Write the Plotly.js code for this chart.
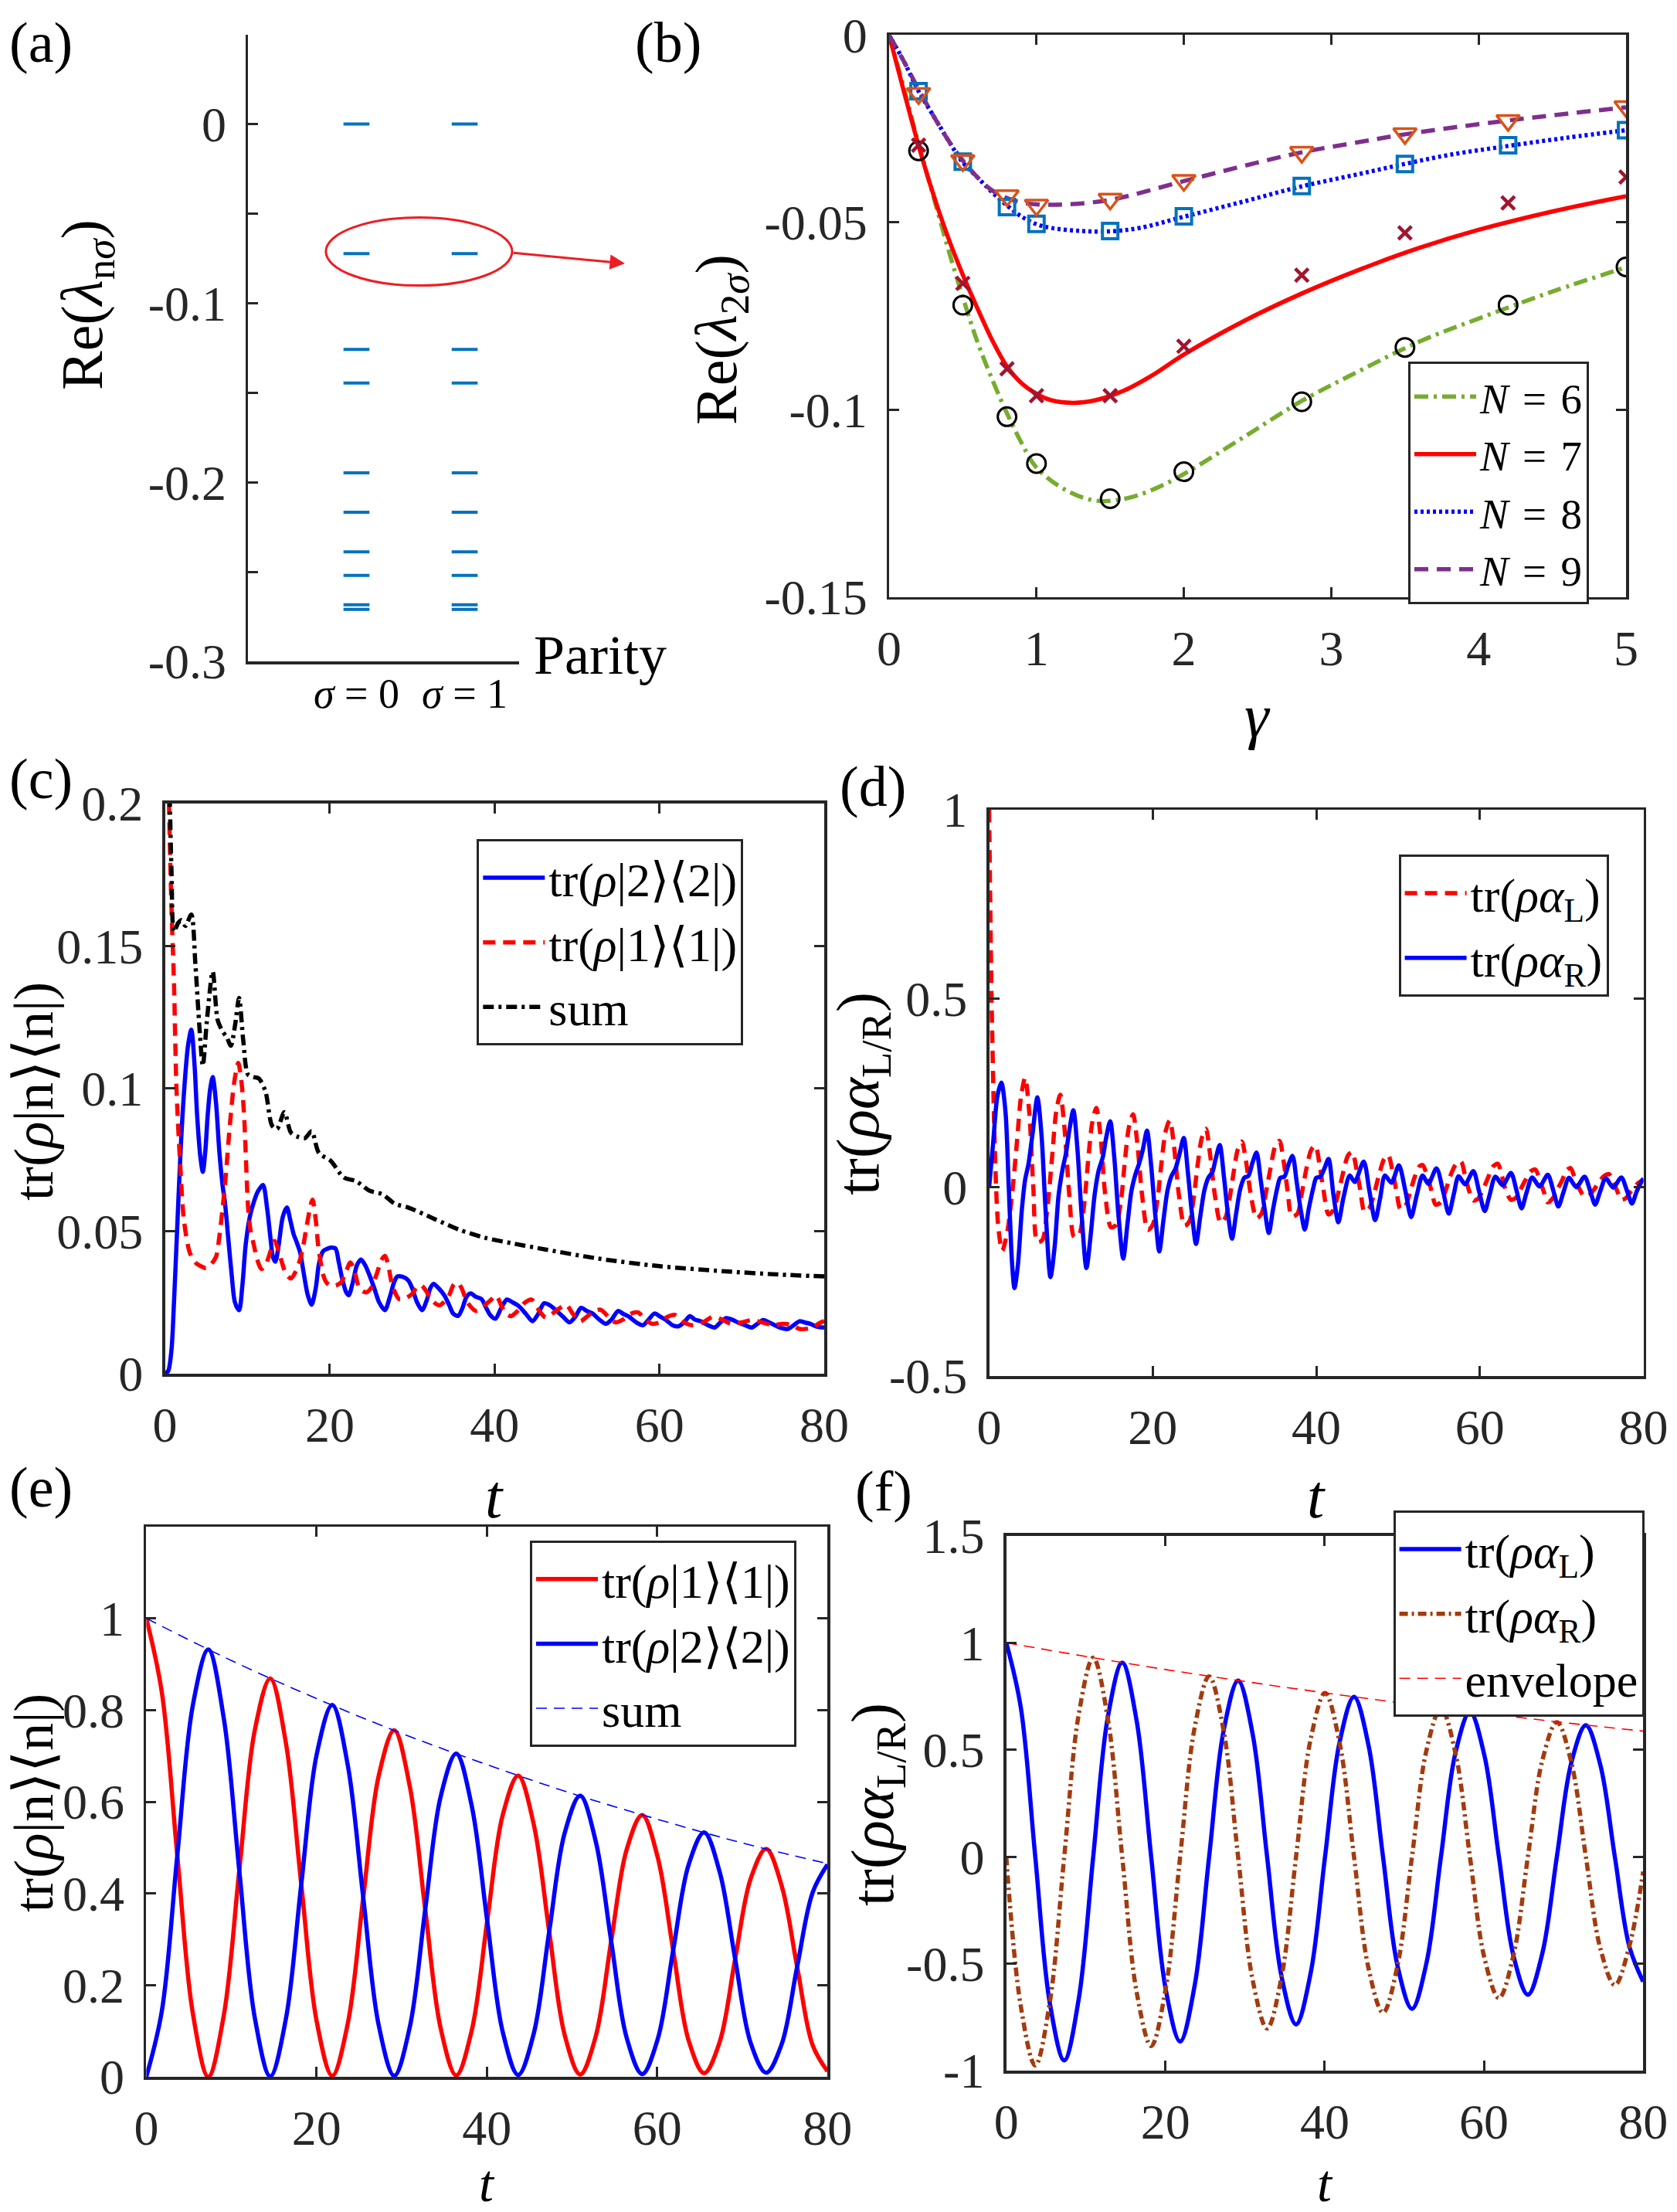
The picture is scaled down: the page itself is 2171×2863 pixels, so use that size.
<!DOCTYPE html>
<html>
<head>
<meta charset="utf-8">
<script src="https://cdn.plot.ly/plotly-3.0.1.min.js"></script>
<style>
  html, body { margin: 0; padding: 0; background: #fff; }
  #fig { width: 2171px; height: 2863px; }
</style>
</head>
<body>
<div id="fig"></div>
<script>
// ---------- (a) decay-rate spectrum split by parity ----------
const paritySectors = [0, 1];
const parityLabels = ['<i>σ</i> = 0', '<i>σ</i> = 1'];
const levelsA = [0, -0.0723, -0.1258, -0.1446, -0.1948, -0.2167, -0.2389, -0.2520, -0.2684, -0.2710];
const ticksA = [-0.3, -0.25, -0.2, -0.15, -0.1, -0.05, 0, 0.05];
const labelsA = ['-0.3', '', '-0.2', '', '-0.1', '', '0', ''];

// ---------- (b) Re(lambda_2sigma) versus gamma ----------
const gammaMarks = [0.2, 0.5, 0.8, 1.0, 1.5, 2.0, 2.8, 3.5, 4.2, 5.0];
const markN6 = [-0.0309, -0.0721, -0.1019, -0.1144, -0.1238, -0.1166, -0.0979, -0.0834, -0.0721, -0.0619];
const markN7 = [-0.0294, -0.0663, -0.0891, -0.0963, -0.0963, -0.0831, -0.0641, -0.0528, -0.0448, -0.0379];
const markN8 = [-0.0150, -0.0338, -0.0459, -0.0504, -0.0523, -0.0484, -0.0403, -0.0344, -0.0294, -0.0254];
const markN9 = [-0.0156, -0.0335, -0.0429, -0.0454, -0.0438, -0.0388, -0.0313, -0.0263, -0.0228, -0.0191];
const curveN6 = [[0,0],[0.1,-0.014],[0.2,-0.029],[0.3,-0.043],[0.4,-0.057],[0.5,-0.070],[0.6,-0.082],[0.7,-0.092],[0.8,-0.101],[0.9,-0.109],[1.0,-0.1155],[1.2,-0.1215],[1.4,-0.1243],[1.6,-0.1238],[1.8,-0.1212],[2.0,-0.1172],[2.4,-0.1075],[2.8,-0.0977],[3.2,-0.0895],[3.6,-0.0818],[4.0,-0.0757],[4.5,-0.0685],[5.0,-0.062]];
const curveN7 = [[0,0],[0.1,-0.015],[0.2,-0.0295],[0.3,-0.0425],[0.4,-0.054],[0.5,-0.064],[0.6,-0.073],[0.7,-0.0815],[0.8,-0.0885],[0.9,-0.093],[1.0,-0.0958],[1.1,-0.0975],[1.25,-0.0982],[1.4,-0.0975],[1.6,-0.0948],[1.8,-0.0905],[2.0,-0.0853],[2.4,-0.0765],[2.8,-0.069],[3.2,-0.0625],[3.6,-0.0568],[4.0,-0.052],[4.5,-0.0471],[5.0,-0.043]];
const curveN8 = [[0,0],[0.1,-0.007],[0.2,-0.015],[0.3,-0.0215],[0.4,-0.028],[0.5,-0.034],[0.6,-0.038],[0.7,-0.042],[0.8,-0.0455],[0.9,-0.0485],[1.0,-0.0505],[1.1,-0.0515],[1.3,-0.0523],[1.5,-0.0524],[1.7,-0.0515],[2.0,-0.0485],[2.4,-0.0445],[2.8,-0.0404],[3.2,-0.037],[3.5,-0.0344],[3.8,-0.032],[4.2,-0.0296],[4.6,-0.0274],[5.0,-0.0254]];
const curveN9 = [[0,0],[0.1,-0.007],[0.2,-0.0145],[0.3,-0.0215],[0.4,-0.028],[0.5,-0.0335],[0.6,-0.038],[0.7,-0.0415],[0.8,-0.0435],[0.9,-0.0447],[1.0,-0.0452],[1.2,-0.0452],[1.5,-0.044],[2.0,-0.039],[2.4,-0.035],[2.8,-0.0313],[3.2,-0.0285],[3.5,-0.0265],[4.2,-0.0228],[5.0,-0.0193]];
const ticksBx = [0, 1, 2, 3, 4, 5];
const ticksBy = [-0.15, -0.1, -0.05, 0];
const labelsBy = ['-0.15', '-0.1', '-0.05', '0'];

// ---------- (c) populations, noisy regime ----------
const cPop2 = [[0,0],[0.4,0.001],[0.8,0.0085],[1.1,0.025],[1.4,0.045],[1.9,0.078],[2.3,0.098],[2.8,0.115],[3.2,0.1206],[3.6,0.108],[3.9,0.091],[4.3,0.076],[4.6,0.0708],[4.9,0.078],[5.2,0.091],[5.5,0.1],[5.8,0.104],[6.2,0.095],[6.6,0.078],[7.0,0.066],[7.3,0.0596],[7.7,0.047],[8.1,0.0347],[8.5,0.025],[9.0,0.0223],[9.4,0.031],[9.8,0.0452],[10.3,0.055],[10.8,0.0603],[11.3,0.064],[11.9,0.0662],[12.4,0.058],[12.8,0.0478],[13.1,0.041],[13.4,0.0393],[13.8,0.045],[14.3,0.055],[14.8,0.0583],[15.2,0.054],[15.6,0.0491],[16.0,0.046],[16.4,0.0426],[16.8,0.036],[17.3,0.028],[17.8,0.0242],[18.3,0.03],[18.7,0.0387],[19.2,0.043],[19.8,0.0439],[20.2,0.0442],[20.7,0.0439],[21.1,0.039],[21.5,0.0334],[22.0,0.0285],[22.3,0.0275],[22.8,0.032],[23.3,0.038],[23.8,0.04],[24.3,0.038],[24.8,0.0347],[25.4,0.03],[26.0,0.025],[26.7,0.0223],[27.3,0.027],[27.8,0.032],[28.2,0.0341],[28.8,0.034],[29.5,0.0328],[30.0,0.03],[30.6,0.025],[31.2,0.0223],[31.8,0.026],[32.2,0.03],[32.6,0.0315],[33.2,0.03],[33.9,0.0275],[34.5,0.024],[35.0,0.021],[35.6,0.0203],[36.1,0.023],[36.6,0.027],[37.1,0.0282],[37.7,0.027],[38.4,0.0262],[39.0,0.023],[39.5,0.0205],[40.1,0.0193],[40.8,0.023],[41.5,0.026],[42.2,0.025],[42.9,0.0238],[43.8,0.021],[44.6,0.0184],[45.3,0.021],[46.0,0.0247],[46.7,0.024],[47.4,0.0224],[48.3,0.02],[49.1,0.018],[49.8,0.02],[50.5,0.0231],[51.2,0.022],[51.9,0.0211],[52.7,0.019],[53.5,0.0175],[54.2,0.019],[55.0,0.022],[55.6,0.021],[56.3,0.02],[57.2,0.018],[58.0,0.017],[58.7,0.019],[59.4,0.0211],[60.1,0.02],[60.8,0.0188],[61.6,0.017],[62.3,0.0166],[63.0,0.018],[63.7,0.0202],[64.3,0.019],[65.0,0.0184],[65.9,0.017],[66.7,0.0162],[67.4,0.018],[68.1,0.0195],[68.8,0.019],[69.5,0.018],[70.4,0.017],[71.2,0.0162],[71.9,0.0175],[72.6,0.0188],[73.3,0.018],[74.0,0.017],[74.8,0.016],[75.6,0.0157],[76.3,0.017],[77.0,0.0184],[77.6,0.018],[78.3,0.0175],[79.1,0.0165],[80.0,0.0162]];
const cPop1 = [[0,0.32],[0.5,0.2],[0.8,0.163],[1.1,0.137],[1.4,0.1],[1.9,0.071],[2.3,0.054],[3.0,0.0426],[3.7,0.039],[4.5,0.0375],[5.0,0.037],[5.5,0.038],[6.2,0.041],[6.6,0.048],[7.0,0.058],[7.4,0.07],[7.8,0.0845],[8.4,0.102],[8.9,0.109],[9.3,0.102],[9.6,0.091],[10.1,0.058],[10.4,0.05],[10.8,0.045],[11.2,0.04],[11.7,0.0367],[12.2,0.038],[12.6,0.041],[13.3,0.0465],[13.8,0.043],[14.2,0.039],[14.7,0.035],[15.3,0.0334],[15.9,0.036],[16.4,0.04],[16.8,0.045],[17.2,0.0518],[17.9,0.061],[18.3,0.054],[18.6,0.045],[19.2,0.0347],[19.6,0.032],[20.1,0.0308],[20.8,0.031],[21.4,0.0321],[22.0,0.036],[22.5,0.039],[23.0,0.036],[23.6,0.03],[24.4,0.0285],[25.0,0.03],[25.7,0.035],[26.3,0.04],[26.7,0.0413],[27.1,0.038],[27.5,0.032],[28.0,0.028],[28.4,0.0262],[29.2,0.0265],[30.0,0.028],[30.6,0.0305],[31.1,0.031],[31.7,0.029],[32.3,0.026],[33.3,0.024],[34.4,0.027],[35.0,0.031],[35.5,0.032],[36.0,0.03],[36.7,0.025],[37.8,0.022],[38.8,0.024],[39.6,0.026],[40.2,0.0274],[40.8,0.024],[41.4,0.021],[42.0,0.0202],[42.8,0.022],[43.7,0.025],[44.5,0.026],[45.2,0.023],[46.2,0.0197],[47.0,0.021],[47.9,0.023],[48.7,0.0242],[49.5,0.021],[50.4,0.0184],[51.2,0.02],[52.1,0.022],[52.9,0.0224],[53.8,0.02],[54.7,0.018],[55.6,0.019],[56.5,0.021],[57.4,0.0215],[58.3,0.019],[59.1,0.0175],[60.0,0.018],[61.0,0.02],[61.9,0.0206],[63.0,0.018],[64.1,0.017],[65.3,0.018],[66.5,0.02],[67.6,0.019],[68.7,0.0175],[70.0,0.018],[71.2,0.0188],[72.5,0.018],[73.7,0.017],[75.0,0.0175],[76.2,0.017],[77.0,0.0157],[78.3,0.016],[79.6,0.018],[80.0,0.0185]];
const cPopSum = [[0,0.3],[0.3,0.24],[0.6,0.2],[0.8,0.176],[1.1,0.155],[1.6,0.158],[2.0,0.159],[2.5,0.157],[3.2,0.161],[3.7,0.1435],[4.2,0.121],[4.6,0.108],[5.1,0.124],[5.8,0.141],[6.4,0.124],[7.0,0.12],[7.5,0.118],[8.0,0.115],[8.5,0.122],[9.0,0.1317],[9.5,0.117],[10.1,0.1048],[10.8,0.104],[11.4,0.1035],[12.2,0.099],[13.0,0.087],[13.6,0.0858],[14.5,0.0917],[15.3,0.0845],[16.2,0.083],[17.0,0.0826],[17.8,0.085],[18.7,0.0773],[20.1,0.0747],[21.7,0.0688],[23.2,0.0675],[24.8,0.0642],[26.4,0.0629],[27.9,0.0596],[29.5,0.0583],[32.6,0.0544],[35.7,0.0505],[38.8,0.0477],[42.0,0.0458],[46.3,0.0435],[52.5,0.0404],[60.0,0.0377],[68.0,0.0359],[74.3,0.0348],[80.0,0.0341]];
const ticksT = [0, 20, 40, 60, 80];
const ticksCy = [0, 0.05, 0.1, 0.15, 0.2];
const labelsCy = ['0', '0.05', '0.1', '0.15', '0.2'];

// ---------- (d) left/right occupations, noisy regime ----------
const dLeft = [[0,1.0],[0.3,0.5],[0.7,0.1],[1.1,-0.1],[1.6,-0.168],[2.2,-0.12],[2.8,-0.02],[3.4,0.12],[3.9,0.24],[4.4,0.29],[4.9,0.2],[5.4,0.0],[5.9,-0.145],[6.5,-0.14],[7.1,-0.06],[7.7,0.08],[8.2,0.2],[8.7,0.245],[9.2,0.16],[9.8,-0.02],[10.4,-0.132],[11.0,-0.125],[11.6,-0.05],[12.1,0.07],[12.6,0.17],[13.1,0.21],[13.6,0.14],[14.2,-0.02],[14.9,-0.106],[15.5,-0.1],[16.1,-0.04],[16.6,0.07],[17.1,0.16],[17.6,0.193],[18.1,0.12],[18.7,-0.02],[19.4,-0.113],[20.0,-0.1],[20.6,-0.03],[21.1,0.07],[21.6,0.15],[22.1,0.177],[22.6,0.11],[23.2,-0.02],[23.9,-0.102],[24.5,-0.09],[25.0,-0.03],[25.5,0.06],[26.0,0.13],[26.5,0.155],[27.0,0.09],[27.6,-0.02],[28.3,-0.094],[28.9,-0.08],[29.4,-0.03],[29.9,0.04],[30.4,0.1],[30.9,0.121],[31.4,0.07],[32.0,-0.02],[32.7,-0.082],[33.3,-0.07],[33.8,-0.02],[34.4,0.05],[35.0,0.11],[35.5,0.123],[36.0,0.07],[36.5,-0.01],[37.0,-0.077],[37.7,-0.07],[38.2,-0.02],[38.8,0.05],[39.4,0.1],[39.9,0.11],[40.4,0.06],[40.9,-0.01],[41.5,-0.072],[42.1,-0.06],[42.7,-0.015],[43.3,0.04],[43.9,0.085],[44.4,0.093],[44.9,0.05],[45.4,-0.01],[45.9,-0.065],[46.5,-0.055],[47.1,-0.015],[47.7,0.035],[48.3,0.075],[48.8,0.085],[49.3,0.045],[49.8,-0.01],[50.3,-0.058],[50.9,-0.05],[51.5,-0.012],[52.0,0.025],[52.6,0.055],[53.0,0.059],[53.5,0.035],[54.1,-0.01],[54.6,-0.046],[55.2,-0.04],[55.8,-0.01],[56.4,0.03],[57.1,0.062],[57.7,0.068],[58.2,0.03],[58.7,-0.01],[59.2,-0.035],[59.8,-0.03],[60.4,-0.005],[61.0,0.025],[61.6,0.055],[62.2,0.062],[62.7,0.03],[63.2,-0.01],[63.8,-0.033],[64.4,-0.028],[65.0,-0.005],[65.6,0.02],[66.2,0.042],[66.8,0.047],[67.3,0.02],[67.8,-0.01],[68.3,-0.04],[68.9,-0.03],[69.5,-0.005],[70.1,0.02],[70.6,0.045],[71.1,0.051],[71.6,0.025],[72.2,-0.005],[72.8,-0.025],[73.4,-0.02],[74.0,-0.005],[74.6,0.015],[75.2,0.03],[75.8,0.035],[76.3,0.015],[76.8,-0.01],[77.3,-0.033],[77.9,-0.028],[78.5,-0.01],[79.2,0.008],[80.0,0.02]];
const dRight = [[0,0],[0.5,0.12],[1.0,0.24],[1.5,0.277],[2.0,0.2],[2.4,0.0],[2.8,-0.2],[3.1,-0.267],[3.5,-0.21],[4.0,-0.06],[4.4,0.02],[4.8,0.06],[5.3,0.14],[5.9,0.238],[6.4,0.14],[6.9,-0.06],[7.5,-0.238],[8.0,-0.16],[8.5,-0.02],[9.0,0.05],[9.4,0.09],[9.8,0.15],[10.3,0.204],[10.8,0.1],[11.3,-0.07],[11.9,-0.214],[12.4,-0.13],[12.9,-0.02],[13.4,0.045],[13.9,0.08],[14.3,0.13],[14.8,0.175],[15.3,0.08],[15.8,-0.07],[16.4,-0.189],[16.9,-0.1],[17.4,-0.01],[17.9,0.035],[18.3,0.06],[18.8,0.1],[19.3,0.15],[19.8,0.06],[20.3,-0.07],[20.8,-0.17],[21.3,-0.09],[21.8,-0.01],[22.3,0.03],[22.8,0.05],[23.3,0.09],[23.8,0.131],[24.3,0.04],[24.8,-0.07],[25.3,-0.15],[25.8,-0.08],[26.3,-0.01],[26.8,0.025],[27.3,0.04],[27.7,0.075],[28.2,0.112],[28.7,0.03],[29.2,-0.07],[29.7,-0.136],[30.2,-0.07],[30.7,-0.005],[31.2,0.025],[31.7,0.03],[32.2,0.065],[32.7,0.092],[33.2,0.02],[33.7,-0.06],[34.2,-0.121],[34.7,-0.06],[35.2,-0.005],[35.6,0.025],[36.1,0.028],[36.6,0.06],[37.1,0.083],[37.6,0.015],[38.1,-0.06],[38.6,-0.112],[39.1,-0.055],[39.6,-0.005],[40.0,0.025],[40.5,0.028],[41.0,0.05],[41.5,0.075],[42.1,-0.02],[42.7,-0.093],[43.3,-0.03],[44.1,0.031],[44.7,0.014],[45.8,0.068],[46.5,-0.01],[47.2,-0.087],[47.8,-0.03],[48.4,0.031],[49.2,0.012],[50.1,0.058],[50.9,-0.01],[51.6,-0.079],[52.3,-0.02],[53.0,0.031],[53.7,0.009],[54.7,0.05],[55.5,-0.01],[56.2,-0.07],[56.8,-0.02],[57.4,0.029],[58.2,0.008],[59.2,0.043],[59.9,-0.01],[60.6,-0.063],[61.2,-0.02],[61.9,0.028],[62.8,0.005],[63.8,0.038],[64.5,-0.01],[65.1,-0.056],[65.7,-0.015],[66.4,0.026],[67.3,0.002],[68.3,0.033],[69.0,-0.01],[69.6,-0.051],[70.2,-0.015],[70.9,0.025],[71.8,0.0],[72.8,0.028],[73.5,-0.01],[74.1,-0.046],[74.7,-0.012],[75.4,0.024],[76.3,-0.001],[77.3,0.026],[78.0,-0.01],[78.6,-0.043],[79.2,-0.01],[80.0,0.024]];
const ticksDy = [-0.5, 0, 0.5, 1];
const labelsDy = ['-0.5', '0', '0.5', '1'];

// ---------- (e), (f) clean regime, sampled on a common time grid ----------
const tGrid = [0, 1.82, 3.64, 5.46, 7.28, 9.10, 10.92, 12.74,
               14.56, 16.38, 18.20, 20.02, 21.84, 23.66, 25.48, 27.30,
               29.12, 30.94, 32.76, 34.58, 36.40, 38.22, 40.04, 41.86,
               43.68, 45.50, 47.32, 49.14, 50.96, 52.78, 54.60, 56.42,
               58.24, 60.06, 61.88, 63.70, 65.52, 67.34, 69.16, 70.98,
               72.80, 74.62, 76.44, 78.26, 80.00];
const ePop1 = [1.000, 0.839, 0.483, 0.139, 0.000, 0.134, 0.450, 0.756,
               0.869, 0.730, 0.420, 0.120, 0.002, 0.116, 0.391, 0.657,
               0.756, 0.634, 0.365, 0.105, 0.003, 0.101, 0.340, 0.571,
               0.657, 0.551, 0.317, 0.091, 0.005, 0.088, 0.296, 0.496,
               0.571, 0.479, 0.276, 0.079, 0.008, 0.076, 0.257, 0.432,
               0.497, 0.417, 0.240, 0.069, 0.012];
const ePop2 = [0.000, 0.143, 0.483, 0.810, 0.932, 0.782, 0.450, 0.129,
               0.001, 0.125, 0.420, 0.704, 0.811, 0.680, 0.391, 0.112,
               0.002, 0.108, 0.365, 0.612, 0.705, 0.591, 0.340, 0.098,
               0.004, 0.094, 0.317, 0.532, 0.613, 0.514, 0.296, 0.085,
               0.006, 0.082, 0.276, 0.463, 0.533, 0.447, 0.257, 0.074,
               0.009, 0.071, 0.240, 0.402, 0.463];
const tCoarse = [0, 10, 20, 30, 40, 50, 60, 70, 80];
const ePopSum = [1.0, 0.908, 0.825, 0.749, 0.681, 0.618, 0.562, 0.510, 0.465];
const fLeft = [1.000, 0.698, 0.000, -0.682, -0.952, -0.665, 0.000, 0.649,
               0.907, 0.634, 0.000, -0.618, -0.864, -0.603, 0.000, 0.589,
               0.823, 0.575, 0.000, -0.561, -0.784, -0.547, 0.000, 0.534,
               0.747, 0.521, 0.000, -0.509, -0.711, -0.497, 0.000, 0.485,
               0.677, 0.473, 0.000, -0.462, -0.645, -0.451, 0.000, 0.440,
               0.614, 0.429, 0.000, -0.419, -0.584];
const fRight = [0.000, -0.698, -0.976, -0.682, 0.000, 0.665, 0.930, 0.649,
                0.000, -0.634, -0.885, -0.618, 0.000, 0.603, 0.843, 0.589,
                0.000, -0.575, -0.803, -0.561, 0.000, 0.547, 0.765, 0.534,
                0.000, -0.521, -0.729, -0.509, 0.000, 0.497, 0.694, 0.485,
                0.000, -0.473, -0.661, -0.462, 0.000, 0.451, 0.629, 0.440,
                0.000, -0.429, -0.600, -0.419, -0.070];
const fEnvelope = [1.0, 0.936, 0.875, 0.819, 0.766, 0.717, 0.671, 0.627, 0.587];
const ticksEy = [0, 0.2, 0.4, 0.6, 0.8, 1];
const labelsEy = ['0', '0.2', '0.4', '0.6', '0.8', '1'];
const ticksFy = [-1, -0.5, 0, 0.5, 1, 1.5];
const labelsFy = ['-1', '-0.5', '0', '0.5', '1', '1.5'];

// ---------- helpers ----------
const W = 2171, H = 2863;
const FONT = 'Liberation Serif, Times New Roman, serif';
const INK = '#262626';
const LW = 5.5;
const fx = p => p / W;
const fy = p => 1 - p / H;
const xs = pairs => pairs.map(p => p[0]);
const ys = pairs => pairs.map(p => p[1]);

function frameAxis(p0, p1, range, vals, text, anchor, isX, extra) {
  return Object.assign({
    domain: isX ? [fx(p0), fx(p1)] : [fy(p1), fy(p0)],
    range: range, anchor: anchor,
    tickmode: 'array', tickvals: vals, ticktext: text,
    ticks: 'inside', ticklen: 13, tickwidth: 3, tickcolor: INK,
    showline: true, linewidth: 3.5, linecolor: INK, mirror: 'allticks',
    showgrid: false, zeroline: false, fixedrange: true,
    tickfont: { family: FONT, size: 64, color: INK },
    ticklabelstandoff: isX ? 8 : 12
  }, extra || {});
}

function boxLegend(xp, yp, size) {
  return {
    x: fx(xp), y: fy(yp), xanchor: 'left', yanchor: 'top',
    bgcolor: '#ffffff', bordercolor: INK, borderwidth: 3,
    font: { family: FONT, size: size, color: '#000' },
    tracegroupgap: 0, traceorder: 'normal', itemwidth: 80
  };
}

function note(xp, yp, text, size, extra) {
  return Object.assign({
    xref: 'paper', yref: 'paper', x: fx(xp), y: fy(yp),
    xanchor: 'center', yanchor: 'middle', showarrow: false,
    text: text, font: { family: FONT, size: size, color: '#000' }
  }, extra || {});
}

// ---------- traces ----------
const traces = [];

// (a) short horizontal bars, one per eigenvalue and parity sector
const DASH_HALF = 0.12;
const segX = [], segY = [];
paritySectors.forEach(s => levelsA.forEach(v => {
  segX.push(s - DASH_HALF, s + DASH_HALF, null);
  segY.push(v, v, null);
}));
traces.push({ type: 'scatter', mode: 'lines', x: segX, y: segY, xaxis: 'x', yaxis: 'y',
  line: { color: '#0072BD', width: 4 }, showlegend: false, hoverinfo: 'skip' });

// (b) curves
const bStyles = [
  { data: curveN6, name: '<i>N</i>\u2004=\u20046', color: '#77AC30', dash: '18px,7px,4px,7px' },
  { data: curveN7, name: '<i>N</i>\u2004=\u20047', color: '#FF0000', dash: 'solid' },
  { data: curveN8, name: '<i>N</i>\u2004=\u20048', color: '#0000FF', dash: '4px,4px' },
  { data: curveN9, name: '<i>N</i>\u2004=\u20049', color: '#7E2F8E', dash: '18px,11px' }
];
bStyles.forEach(s => traces.push({
  type: 'scatter', mode: 'lines', x: xs(s.data), y: ys(s.data), xaxis: 'x2', yaxis: 'y2',
  name: s.name, legend: 'legend', line: { color: s.color, width: LW, dash: s.dash, shape: 'spline', smoothing: 1 }
}));
const bMarks = [
  { y: markN6, symbol: 'circle-open', color: '#000000', size: 24, lw: 3 },
  { y: markN7, symbol: 'x-thin-open', color: '#A2142F', size: 17, lw: 4.5 },
  { y: markN8, symbol: 'square-open', color: '#0072BD', size: 20, lw: 4 },
  { y: markN9, symbol: 'triangle-down-open', color: '#D95319', size: 26, lw: 3.5 }
];
bMarks.forEach(m => traces.push({
  type: 'scatter', mode: 'markers', x: gammaMarks, y: m.y, xaxis: 'x2', yaxis: 'y2',
  showlegend: false, marker: { symbol: m.symbol, color: m.color, size: m.size, line: { width: m.lw, color: m.color } }
}));

// (c)
traces.push({ type: 'scatter', mode: 'lines', x: xs(cPop2), y: ys(cPop2), xaxis: 'x3', yaxis: 'y3',
  name: 'tr(<i>ρ</i>|2⟩⟨2|)', legend: 'legend2',
  line: { color: '#0000FF', width: LW, shape: 'spline', smoothing: 0.8 } });
traces.push({ type: 'scatter', mode: 'lines', x: xs(cPop1), y: ys(cPop1), xaxis: 'x3', yaxis: 'y3',
  name: 'tr(<i>ρ</i>|1⟩⟨1|)', legend: 'legend2',
  line: { color: '#FF0000', width: LW, dash: '16px,10px', shape: 'spline', smoothing: 0.8 } });
traces.push({ type: 'scatter', mode: 'lines', x: xs(cPopSum), y: ys(cPopSum), xaxis: 'x3', yaxis: 'y3',
  name: 'sum', legend: 'legend2',
  line: { color: '#000000', width: LW, dash: '14px,6px,4px,6px', shape: 'spline', smoothing: 0.8 } });

// (d)
traces.push({ type: 'scatter', mode: 'lines', x: xs(dLeft), y: ys(dLeft), xaxis: 'x4', yaxis: 'y4',
  name: 'tr(<i>ρα</i><sub>L</sub>)', legend: 'legend3',
  line: { color: '#FF0000', width: LW, dash: '16px,10px', shape: 'spline', smoothing: 0.8 } });
traces.push({ type: 'scatter', mode: 'lines', x: xs(dRight), y: ys(dRight), xaxis: 'x4', yaxis: 'y4',
  name: 'tr(<i>ρα</i><sub>R</sub>)', legend: 'legend3',
  line: { color: '#0000FF', width: LW, shape: 'spline', smoothing: 0.8 } });

// (e)
traces.push({ type: 'scatter', mode: 'lines', x: tGrid, y: ePop1, xaxis: 'x5', yaxis: 'y5',
  name: 'tr(<i>ρ</i>|1⟩⟨1|)', legend: 'legend4',
  line: { color: '#FF0000', width: LW, shape: 'spline', smoothing: 1 } });
traces.push({ type: 'scatter', mode: 'lines', x: tGrid, y: ePop2, xaxis: 'x5', yaxis: 'y5',
  name: 'tr(<i>ρ</i>|2⟩⟨2|)', legend: 'legend4',
  line: { color: '#0000FF', width: LW, shape: 'spline', smoothing: 1 } });
traces.push({ type: 'scatter', mode: 'lines', x: tCoarse, y: ePopSum, xaxis: 'x5', yaxis: 'y5',
  name: 'sum', legend: 'legend4',
  line: { color: '#0000FF', width: 1.6, dash: '14px,9px', shape: 'spline', smoothing: 1 } });

// (f)
traces.push({ type: 'scatter', mode: 'lines', x: tGrid, y: fLeft, xaxis: 'x6', yaxis: 'y6',
  name: 'tr(<i>ρα</i><sub>L</sub>)', legend: 'legend5',
  line: { color: '#0000FF', width: LW, shape: 'spline', smoothing: 1 } });
traces.push({ type: 'scatter', mode: 'lines', x: tGrid, y: fRight, xaxis: 'x6', yaxis: 'y6',
  name: 'tr(<i>ρα</i><sub>R</sub>)', legend: 'legend5',
  line: { color: '#A33B0E', width: LW, dash: '11px,5px,3px,5px', shape: 'spline', smoothing: 1 } });
traces.push({ type: 'scatter', mode: 'lines', x: tCoarse, y: fEnvelope, xaxis: 'x6', yaxis: 'y6',
  name: 'envelope', legend: 'legend5',
  line: { color: '#FF0000', width: 1.6, dash: '14px,9px', shape: 'spline', smoothing: 1 } });

// ---------- layout ----------
const layout = {
  width: W, height: H, autosize: false,
  margin: { l: 0, r: 0, t: 0, b: 0, pad: 0 },
  paper_bgcolor: '#ffffff', plot_bgcolor: 'rgba(0,0,0,0)',
  font: { family: FONT, color: INK },
  hovermode: false,

  xaxis: frameAxis(321.4, 671.6, [-1, 1.5], paritySectors, parityLabels, 'y', true,
    { mirror: false, ticks: '', tickfont: { family: FONT, size: 54, color: '#000' }, ticklabelstandoff: -8 }),
  yaxis: frameAxis(44.6, 856, [-0.3, 0.05], ticksA, labelsA, 'x', false, { mirror: false }),

  xaxis2: frameAxis(1151, 2105, [0, 5], ticksBx, ticksBx.map(String), 'y2', true),
  yaxis2: frameAxis(45.4, 772.5, [-0.15, 0], ticksBy, labelsBy, 'x2', false),

  xaxis3: frameAxis(213.5, 1067, [0, 80], ticksT, ticksT.map(String), 'y3', true),
  yaxis3: frameAxis(1039.7, 1778, [0, 0.2], ticksCy, labelsCy, 'x3', false),

  xaxis4: frameAxis(1280.5, 2127.5, [0, 80], ticksT, ticksT.map(String), 'y4', true),
  yaxis4: frameAxis(1048, 1781, [-0.5, 1], ticksDy, labelsDy, 'x4', false),

  xaxis5: frameAxis(189.4, 1071.2, [0, 80], ticksT, ticksT.map(String), 'y5', true),
  yaxis5: frameAxis(1976, 2688, [0, 1.2], ticksEy, labelsEy, 'x5', false),

  xaxis6: frameAxis(1302.7, 2127.2, [0, 80], ticksT, ticksT.map(String), 'y6', true),
  yaxis6: frameAxis(1987.8, 2680, [-1, 1.5], ticksFy, labelsFy, 'x6', false),

  legend: boxLegend(1823, 468, 55),
  legend2: boxLegend(617.3, 1086.3, 62),
  legend3: boxLegend(1810.6, 1106.3, 62),
  legend4: boxLegend(686, 1994, 62),
  legend5: boxLegend(1803.6, 1955.3, 62),

  shapes: [
    { type: 'circle', xref: 'x', yref: 'y', x0: -0.2826, x1: 1.4386, y0: -0.0522, y1: -0.0902,
      line: { color: '#EE1D23', width: 3 } }
  ],

  annotations: [
    note(53, 55, '(a)', 74), note(865, 55, '(b)', 74),
    note(53, 1008, '(c)', 74), note(1130, 1018, '(d)', 74),
    note(53, 1925, '(e)', 74), note(1144, 1930, '(f)', 74),

    note(112, 395, 'Re(<i>λ</i><sub>n<i>σ</i></sub>)', 76, { textangle: -90 }),
    note(933, 440, 'Re(<i>λ</i><sub>2<i>σ</i></sub>)', 76, { textangle: -90 }),
    note(44, 1413, 'tr(<i>ρ</i>|n⟩⟨n|)', 72, { textangle: -90 }),
    note(1116, 1416, 'tr(<i>ρα</i><sub>L/R</sub>)', 78, { textangle: -90 }),
    note(44, 2334, 'tr(<i>ρ</i>|n⟩⟨n|)', 72, { textangle: -90 }),
    note(1135, 2336, 'tr(<i>ρα</i><sub>L/R</sub>)', 78, { textangle: -90 }),

    note(1628, 927, '<i>γ</i>', 80),
    note(640, 1937, '<i>t</i>', 80),
    note(1704, 1937, '<i>t</i>', 80),
    note(630, 2826, '<i>t</i>', 68),
    note(1715, 2826, '<i>t</i>', 68),

    note(689, 848, 'Parity', 72, { xanchor: 'left' }),

    { xref: 'paper', yref: 'paper', x: fx(809), y: fy(341), ax: -146, ay: -14,
      axref: 'pixel', ayref: 'pixel', text: '', showarrow: true,
      arrowhead: 2, arrowsize: 1.3, arrowwidth: 3, arrowcolor: '#EE1D23' }
  ]
};

Plotly.newPlot('fig', traces, layout, { displayModeBar: false, staticPlot: true });
</script>
</body>
</html>
